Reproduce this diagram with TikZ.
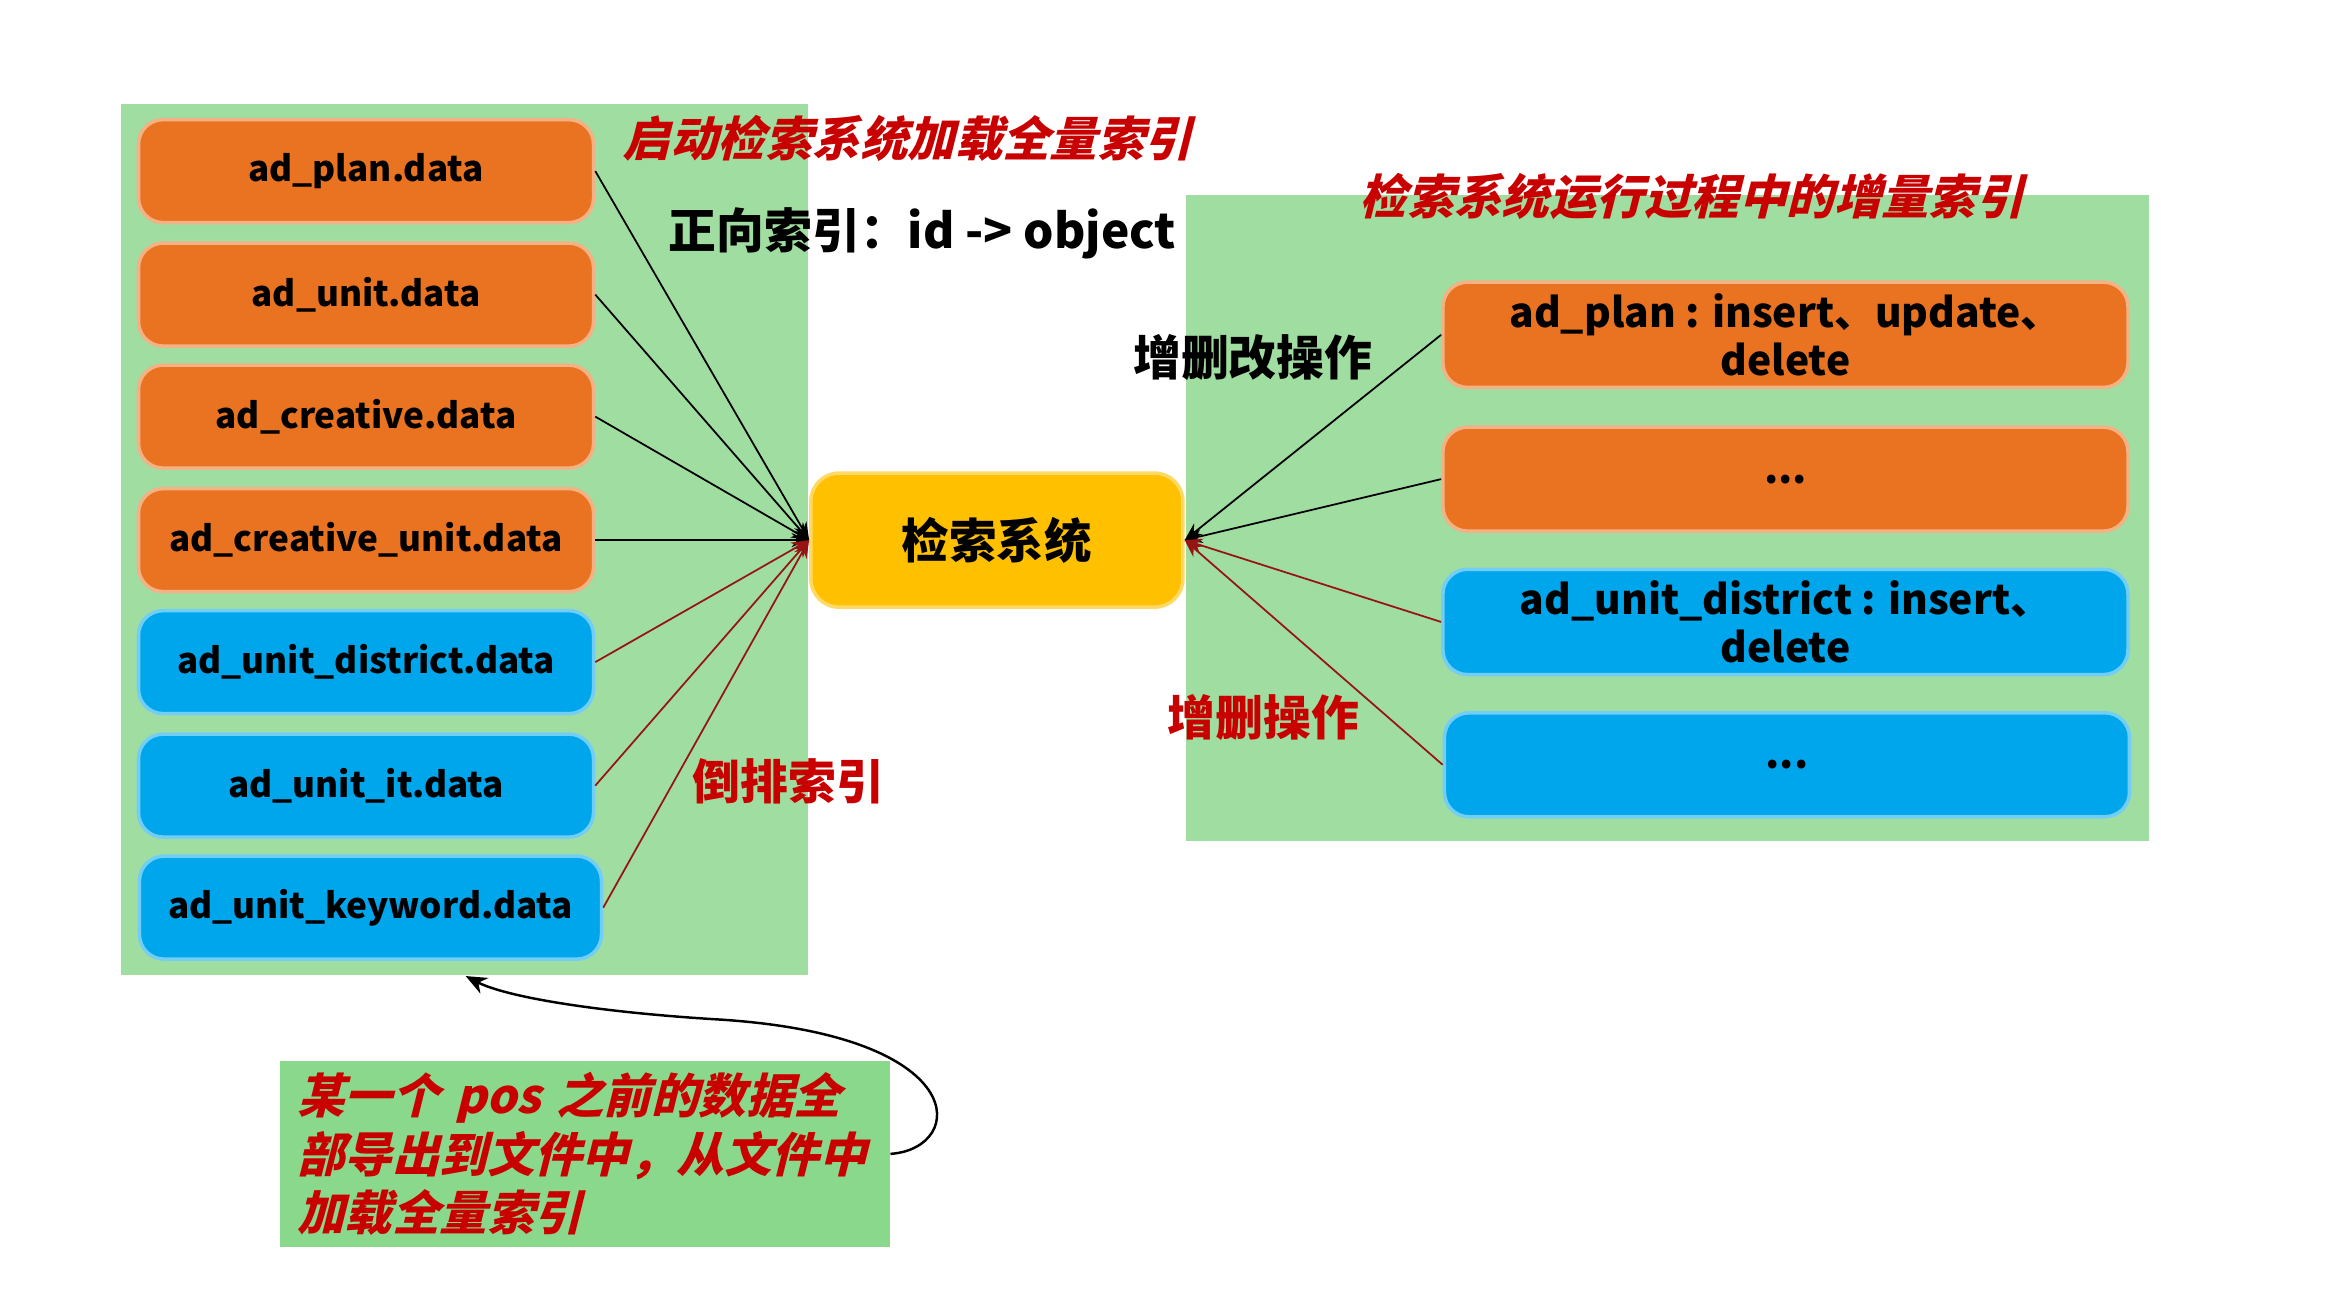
\documentclass[tikz,border=0pt]{standalone}
\usepackage{fontspec}
\setmainfont{Noto Sans CJK SC}
\newfontfamily\slantfont{Noto Sans CJK SC}[FakeSlant=0.25]
\usetikzlibrary{arrows.meta,positioning}
\definecolor{panelgreen}{RGB}{160,221,160}
\definecolor{notegreen}{RGB}{138,216,140}
\definecolor{boxorange}{RGB}{234,115,34}
\definecolor{boxblue}{RGB}{0,166,236}
\definecolor{sysyellow}{RGB}{255,192,0}
\definecolor{titlered}{RGB}{200,0,0}
\definecolor{linered}{RGB}{150,20,20}

\begin{document}
\begin{tikzpicture}[x=0.01488cm,y=-0.01488cm,>=Stealth,
  filebox/.style={rounded corners=7pt,draw=#1!55!white,fill=#1,line width=1pt,
    minimum width=4.55cm,minimum height=1.03cm,font=\bfseries\fontsize{10}{12}\selectfont},
  opbox/.style={rounded corners=7pt,draw=#1!55!white,fill=#1,line width=1pt,
    minimum width=6.85cm,minimum height=1.04cm,align=center,font=\bfseries\fontsize{11.6}{13.5}\selectfont},
  redtitle/.style={text=titlered,font=\slantfont\bfseries\fontsize{13.5}{15}\selectfont},
  biglabel/.style={font=\bfseries\fontsize{13.6}{16}\selectfont},
  fwdline/.style={black,line width=0.5pt,-{Stealth[length=5pt,width=4pt]}},
  invline/.style={linered,line width=0.5pt,-{Stealth[length=5pt,width=4pt]}}]
  \useasboundingbox (0,0) rectangle (1568,868);
  % ---------------- panels ----------------
  \fill[panelgreen] (81,70) rectangle (543,655);
  \fill[panelgreen] (797,131) rectangle (1444,565);
  % ---------------- full index files ----------------
  \node[filebox=boxorange] (plan)     at (246,115) {ad\_plan.data};
  \node[filebox=boxorange] (unit)     at (246,198) {ad\_unit.data};
  \node[filebox=boxorange] (creative) at (246,280) {ad\_creative.data};
  \node[filebox=boxorange] (cunit)    at (246,363) {ad\_creative\_unit.data};
  \node[filebox=boxblue]   (district) at (246,445) {ad\_unit\_district.data};
  \node[filebox=boxblue]   (it)       at (246,528) {ad\_unit\_it.data};
  \node[filebox=boxblue,minimum width=4.62cm] (keyword) at (249,610) {ad\_unit\_keyword.data};
  % ---------------- search system ----------------
  \node[rounded corners=8pt,fill=sysyellow,draw=sysyellow!60!white,line width=1pt,
    minimum width=3.72cm,minimum height=1.34cm,font=\bfseries\fontsize{13.5}{16}\selectfont]
    (sys) at (670,363) {检索系统};
  % ---------------- incremental ops ----------------
  \node[opbox=boxorange] (rplan)     at (1200,225) {ad\_plan : insert、update、\\delete};
  \node[opbox=boxorange] (rmore)     at (1200,322) {...};
  \node[opbox=boxblue]   (rdistrict) at (1200,418) {ad\_unit\_district : insert、\\delete};
  \node[opbox=boxblue]   (rless)     at (1201,514) {...};
  % ---------------- connectors ----------------
  \foreach \f in {plan,unit,creative,cunit}
    \draw[fwdline] (\f.east) -- (sys.west);
  \foreach \f in {district,it,keyword}
    \draw[invline] (\f.east) -- (sys.west);
  \foreach \f in {rplan,rmore}
    \draw[fwdline] (\f.west) -- (sys.east);
  \foreach \f in {rdistrict,rless}
    \draw[invline] (\f.west) -- (sys.east);
  % ---------------- labels ----------------
  \node[redtitle] (fulltitle) at (610,93) {启动检索系统加载全量索引};
  \node[redtitle] (inctitle) at (1137,132) {检索系统运行过程中的增量索引};
  \node[biglabel] (fwdlabel) at (620,157) {正向索引：id -> object};
  \node[biglabel] (cudlabel) at (842,240) {增删改操作};
  \node[biglabel,text=titlered] (cdlabel) at (849,482) {增删操作};
  \node[biglabel,text=titlered] (invlabel) at (530,525) {倒排索引};
  % ---------------- dump note ----------------
  \node[fill=notegreen,minimum width=6.10cm,minimum height=1.86cm,text width=5.75cm,align=left,
    inner sep=0pt,text=titlered,font=\slantfont\bfseries\fontsize{13.5}{16.7}\selectfont]
    (note) at (393,775.5) {某一个 pos 之前的数据全\\部导出到文件中，从文件中\\加载全量索引};
  \coordinate (back) at (313,656);
  \draw[line width=0.7pt,-{Stealth[length=6pt,width=5pt]}] (note.east)
    .. controls (650,772) and (655,695) .. (480,685)
    .. controls (400,680) and (340,670) .. (back);
\end{tikzpicture}
\end{document}
